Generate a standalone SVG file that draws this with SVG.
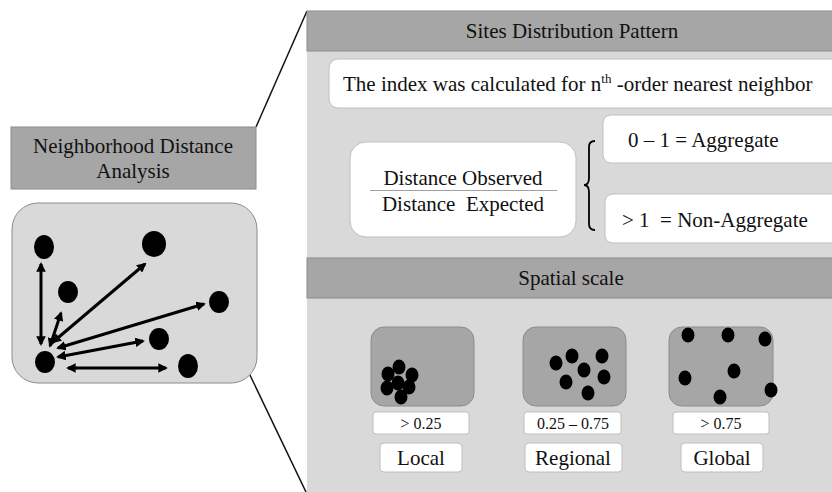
<svg xmlns="http://www.w3.org/2000/svg" width="832" height="492" viewBox="0 0 832 492" font-family="'Liberation Serif', 'Times New Roman', 'DejaVu Serif', serif">
<style>
text{font-family:'Liberation Serif','Times New Roman','DejaVu Serif',serif;fill:#111;}
.t21{font-size:21px;}
.t16{font-size:16px;}
.hdr{fill:#a6a6a6;stroke:#8c8c8c;stroke-width:1;}
.pan{fill:#d9d9d9;stroke:none;}
.wbox{fill:#fff;stroke:#bfbfbf;stroke-width:1;}
.sbox{fill:#a6a6a6;stroke:#8c8c8c;stroke-width:1;}
.arr{stroke:#000;stroke-width:3;fill:none;marker-start:url(#ah);marker-end:url(#ah);}
.conn{stroke:#111;stroke-width:1.5;fill:none;}
</style>
<defs>
<marker id="ah" viewBox="0 0 10 10" refX="8" refY="5" markerWidth="3.2" markerHeight="3.2" orient="auto-start-reverse">
<path d="M0,0 L10,5 L0,10 z" fill="#000"/>
</marker>
</defs>
<rect width="832" height="492" fill="#fff"/>

<g id="connectors">
<line class="conn" x1="256" y1="127" x2="307" y2="11"/>
<line class="conn" x1="249" y1="373" x2="306" y2="492"/>
</g>

<g id="nda-title">
<rect x="11" y="127" width="245" height="62" class="hdr"/>
<text class="t21" x="133" y="153" text-anchor="middle">Neighborhood Distance</text>
<text class="t21" x="133" y="178" text-anchor="middle">Analysis</text>
</g>

<g id="nda-diagram">
<rect x="12" y="203" width="245" height="180" rx="26" fill="#d9d9d9" stroke="#8c8c8c" stroke-width="1"/>
<ellipse cx="44" cy="247" rx="10" ry="12"/>
<ellipse cx="154" cy="244" rx="12" ry="13"/>
<ellipse cx="68" cy="292" rx="10" ry="11"/>
<ellipse cx="219" cy="302" rx="10" ry="11"/>
<ellipse cx="159" cy="339" rx="10" ry="11"/>
<ellipse cx="45" cy="362" rx="10" ry="11"/>
<ellipse cx="188" cy="366" rx="10" ry="12"/>
<line class="arr" x1="41" y1="264" x2="41" y2="344"/>
<line class="arr" x1="53" y1="342" x2="145" y2="264"/>
<line class="arr" x1="50" y1="346" x2="61" y2="313"/>
<line class="arr" x1="58" y1="348" x2="204" y2="304"/>
<line class="arr" x1="58" y1="357" x2="143" y2="341"/>
<line class="arr" x1="68" y1="368" x2="166" y2="368"/>
</g>

<g id="sites-panel">
<rect x="307" y="51" width="540" height="207" class="pan"/>
<rect x="307" y="11" width="540" height="40" class="hdr"/>
<text class="t21" x="572" y="38" text-anchor="middle">Sites Distribution Pattern</text>
</g>

<g id="index-note">
<rect x="329" y="59" width="520" height="49" rx="9" class="wbox"/>
<text class="t21" x="343" y="91">The index was calculated for n<tspan font-size="13" dy="-8">th</tspan><tspan dy="8"> -order nearest neighbor</tspan></text>
</g>

<g id="ratio">
<rect x="350" y="142" width="226" height="95" rx="16" class="wbox"/>
<text class="t21" x="463" y="185" text-anchor="middle">Distance Observed</text>
<line x1="370" y1="190.5" x2="557" y2="190.5" stroke="#a0a0a0" stroke-width="1"/>
<text class="t21" x="463" y="211" text-anchor="middle" xml:space="preserve">Distance  Expected</text>
</g>

<g id="brace">
<path d="M595,141 Q589,141 589,147 L589,178 Q589,185 584,185 Q589,185 589,192 L589,224 Q589,230 595,230" fill="none" stroke="#000" stroke-width="1.8"/>
</g>

<g id="aggregate">
<rect x="603" y="115" width="240" height="48" rx="8" class="wbox"/>
<text class="t21" x="628" y="147">0 – 1 = Aggregate</text>
</g>

<g id="non-aggregate">
<rect x="605" y="194" width="240" height="49" rx="8" class="wbox"/>
<text class="t21" x="622" y="227" xml:space="preserve">&gt; 1  = Non-Aggregate</text>
</g>

<g id="scale-panel">
<rect x="307" y="298" width="540" height="200" class="pan"/>
<rect x="307" y="258" width="540" height="40" class="hdr"/>
<text class="t21" x="571" y="285" text-anchor="middle">Spatial scale</text>
</g>

<g id="local">
<rect x="371" y="327" width="103" height="79" rx="13" class="sbox"/>
<ellipse cx="399" cy="367" rx="6.5" ry="7.5"/>
<ellipse cx="388" cy="374" rx="6.5" ry="7.5"/>
<ellipse cx="412" cy="375" rx="6.5" ry="7.5"/>
<ellipse cx="387" cy="388" rx="6.5" ry="7.5"/>
<ellipse cx="409" cy="387" rx="6.5" ry="7.5"/>
<ellipse cx="398" cy="383" rx="6.5" ry="7.5"/>
<ellipse cx="401" cy="397" rx="6.5" ry="7.5"/>
<rect x="373" y="412" width="96" height="22" rx="3" class="wbox"/>
<text class="t16" x="421" y="429" text-anchor="middle">&gt; 0.25</text>
<rect x="380" y="443" width="82" height="29" rx="4" class="wbox"/>
<text class="t21" x="421" y="465" text-anchor="middle">Local</text>
</g>

<g id="regional">
<rect x="523" y="327" width="103" height="79" rx="13" class="sbox"/>
<ellipse cx="556" cy="363" rx="6.5" ry="7.5"/>
<ellipse cx="572" cy="356" rx="6.5" ry="7.5"/>
<ellipse cx="602" cy="356" rx="6.5" ry="7.5"/>
<ellipse cx="584" cy="370" rx="6.5" ry="7.5"/>
<ellipse cx="566" cy="382" rx="6.5" ry="7.5"/>
<ellipse cx="604" cy="377" rx="6.5" ry="7.5"/>
<ellipse cx="588" cy="393" rx="6.5" ry="7.5"/>
<rect x="524" y="412" width="97" height="22" rx="3" class="wbox"/>
<text class="t16" x="573" y="429" text-anchor="middle">0.25 – 0.75</text>
<rect x="525" y="443" width="97" height="29" rx="4" class="wbox"/>
<text class="t21" x="573" y="465" text-anchor="middle">Regional</text>
</g>

<g id="global">
<rect x="669" y="327" width="104" height="79" rx="13" class="sbox"/>
<ellipse cx="688" cy="335" rx="6.5" ry="7.5"/>
<ellipse cx="728" cy="335" rx="6.5" ry="7.5"/>
<ellipse cx="765" cy="339" rx="6.5" ry="7.5"/>
<ellipse cx="685" cy="378" rx="6.5" ry="7.5"/>
<ellipse cx="734" cy="371" rx="6.5" ry="7.5"/>
<ellipse cx="720" cy="397" rx="6.5" ry="7.5"/>
<ellipse cx="771" cy="390" rx="6.5" ry="7.5"/>
<rect x="673" y="412" width="96" height="22" rx="3" class="wbox"/>
<text class="t16" x="721" y="429" text-anchor="middle">&gt; 0.75</text>
<rect x="681" y="443" width="82" height="29" rx="4" class="wbox"/>
<text class="t21" x="722" y="465" text-anchor="middle">Global</text>
</g>
</svg>
